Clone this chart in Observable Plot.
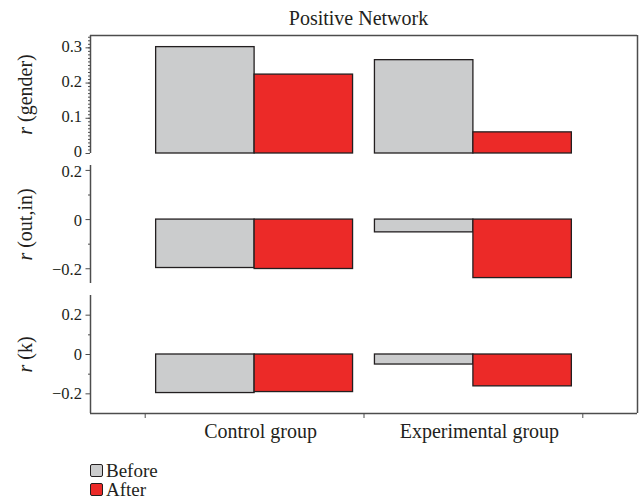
<!DOCTYPE html>
<html><head><meta charset="utf-8">
<script src="https://cdn.jsdelivr.net/npm/d3@7"></script>
<script src="https://cdn.jsdelivr.net/npm/@observablehq/plot@0.6"></script>
<style>
body{margin:0;background:#fff;}
#chart{position:relative;width:641px;height:498px;font-family:"Liberation Serif",serif;color:#231f20;}
#chart svg{position:absolute;left:0;top:0;overflow:visible;background:transparent;}
#title{position:absolute;left:85px;width:547px;top:8px;text-align:center;font-size:20px;line-height:20px;}
#legend{position:absolute;left:90px;top:461px;font-size:19px;}
#legend .row{display:flex;align-items:center;height:19px;}
#legend .sw{width:11px;height:11px;border:1px solid #231f20;border-radius:2px;margin-right:3px;}
</style></head>
<body><div id="chart"><div id="title"></div><div id="legend"></div></div>
<script>
// ---- data ----
const title = "Positive Network";
const groups = ["Control group", "Experimental group"];
const phases = ["Before", "After"];
const phaseColors = ["#cbcccd", "#ec2a28"];

const rGenderBefore = [0.302, 0.265];
const rGenderAfter  = [0.224, 0.060];
const rOutInBefore  = [-0.197, -0.052];
const rOutInAfter   = [-0.201, -0.238];
const rKBefore      = [-0.196, -0.051];
const rKAfter       = [-0.191, -0.162];

const yLabels = ["r (gender)", "r (out,in)", "r (k)"];
const genderTicks = [0, 0.1, 0.2, 0.3];
const outInTicks = [-0.2, 0, 0.2];
const kTicks = [-0.2, 0, 0.2];

// ---- layout ----
const W = 641, H = 498;
const frameLeft = 90, frameRight = 637, frameTop = 35, frameBottom = 413;
const xDomain = [-0.75, groups.length - 0.25];
const barW = 0.45;
const ink = "#231f20", axisInk = "#4d4d4d";
const font = {fontFamily: "Liberation Serif, serif", fontSize: "17px", color: ink, background: "transparent", overflow: "visible"};
const fmt = d => d === 0 ? "0" : (d < 0 ? "\u2212" : "") + String(Math.abs(d));

const panels = [
  {label: yLabels[0], series: [rGenderBefore, rGenderAfter], domain: [0, 0.335], ticks: genderTicks, minor: d3.range(0, 0.3351, 0.01), top: 35, bottom: 153, tdy: -1.5},
  {label: yLabels[1], series: [rOutInBefore, rOutInAfter], domain: [-0.26, 0.22], ticks: outInTicks, minor: [-0.1, 0.1], top: 165, bottom: 283, tdy: 1},
  {label: yLabels[2], series: [rKBefore, rKAfter], domain: [-0.3, 0.3], ticks: kTicks, minor: [-0.1, 0.1], top: 295, bottom: 413, tdy: 0}
];

const chart = document.getElementById("chart");
document.getElementById("title").textContent = title;

function styleLabel(svg, label) {
  d3.select(svg).selectAll("text").each(function() {
    if (this.textContent.includes(label)) {
      const el = d3.select(this);
      el.text(null).attr("font-size", 20);
      el.append("tspan").attr("font-style", "italic").text(label.slice(0, 1));
      el.append("tspan").text(label.slice(1));
    }
  });
}

for (const p of panels) {
  const rows = groups.flatMap((g, gi) => phases.map((ph, pi) => ({group: g, gi, phase: ph, pi, value: p.series[pi][gi]})));
  const svg = Plot.plot({
    width: W, height: H,
    marginLeft: frameLeft, marginRight: W - frameRight,
    marginTop: p.top, marginBottom: H - p.bottom,
    style: font,
    x: {domain: xDomain, axis: null},
    y: {domain: p.domain, axis: null},
    color: {domain: phases, range: phaseColors},
    marks: [
      Plot.rect(rows, {
        x1: d => d.gi - barW + d.pi * barW,
        x2: d => d.gi + d.pi * barW,
        y1: 0, y2: "value",
        fill: "phase", stroke: ink, strokeWidth: 1.3
      }),
      Plot.ruleX([xDomain[0]], {stroke: axisInk, strokeWidth: 1.5}),
      Plot.axisY(p.minor, {tickSize: 2, tickFormat: () => "", stroke: axisInk, label: null}),
      Plot.axisY(p.ticks, {tickSize: 4.5, tickPadding: 4, tickFormat: null, text: null, stroke: axisInk, label: null}),
      Plot.axisY(p.ticks, {tickSize: 4.5, tickPadding: 4, tickFormat: fmt, stroke: "none", fill: ink, fontSize: 16.5, dy: p.tdy,
        label: p.label, labelAnchor: "center", labelOffset: 73})
    ]
  });
  styleLabel(svg, p.label);
  chart.appendChild(svg);
}

// frame + category axis
const frameSvg = Plot.plot({
  width: W, height: H,
  marginLeft: frameLeft, marginRight: W - frameRight,
  marginTop: frameTop, marginBottom: H - frameBottom,
  style: font,
  x: {domain: xDomain, axis: null},
  y: {domain: [0, 1], axis: null},
  marks: [
    Plot.ruleY([1], {stroke: axisInk, strokeWidth: 1.5}),
    Plot.ruleY([0], {stroke: axisInk, strokeWidth: 1.5}),
    Plot.ruleX([xDomain[1]], {stroke: axisInk, strokeWidth: 1.5}),
    Plot.axisX(d3.range(groups.length + 1).map(i => i - 0.5), {tickSize: 5, tickFormat: () => "", stroke: axisInk, label: null}),
    Plot.axisX(groups.map((g, i) => i), {tickSize: 0, tickPadding: 10, tickFormat: i => groups[i], fontSize: 20, fill: ink, dx: 6, label: null})
  ]
});
chart.appendChild(frameSvg);

// legend
const legend = d3.select("#legend");
phases.forEach((ph, i) => {
  const row = legend.append("div").attr("class", "row");
  row.append("div").attr("class", "sw").style("background", phaseColors[i]);
  row.append("span").text(ph);
});
</script>
</body></html>
